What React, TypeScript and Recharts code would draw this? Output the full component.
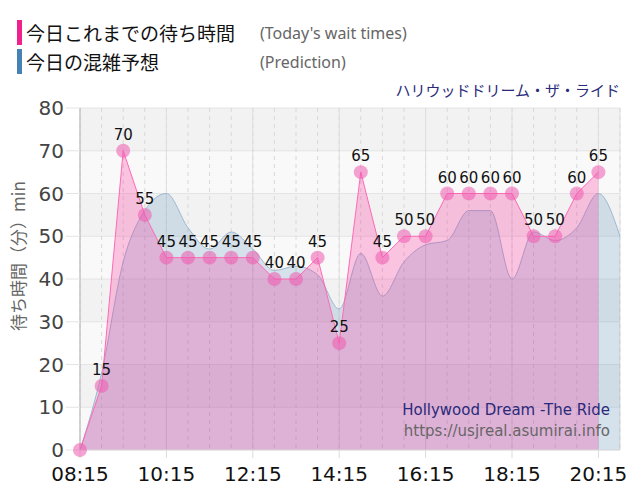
import { Area, AreaChart, CartesianGrid, LabelList, XAxis, YAxis } from "recharts";

// 30分ごとの時刻
const times = [
  "08:15", "08:45", "09:15", "09:45", "10:15", "10:45", "11:15", "11:45",
  "12:15", "12:45", "13:15", "13:45", "14:15", "14:45", "15:15", "15:45",
  "16:15", "16:45", "17:15", "17:45", "18:15", "18:45", "19:15", "19:45",
  "20:15", "20:45",
];

// 今日これまでの待ち時間
const waitTimes = [
  0, 15, 70, 55, 45, 45, 45, 45, 45, 40, 40, 45, 25, 65, 45, 50, 50, 60, 60, 60,
  60, 50, 50, 60, 65, null,
];

// 今日の混雑予想
const prediction = [
  0, 18, 44, 56, 60, 52, 47, 51, 47, 42, 43, 41, 33, 46, 36, 44, 48, 49, 56, 56,
  40, 51, 49, 52, 60, 50,
];

const xTicks = ["08:15", "10:15", "12:15", "14:15", "16:15", "18:15", "20:15"];
const yTicks = [0, 10, 20, 30, 40, 50, 60, 70, 80];

const data = times.map((t, i) => ({ time: t, wait: waitTimes[i], pred: prediction[i] }));

const jp = '"Noto Sans CJK JP", sans-serif';
const num = '"DejaVu Sans", sans-serif';

function LegendRow({ color, jpText, enText, top }: { color: string; jpText: string; enText: string; top: number }) {
  return (
    <div style={{ position: "absolute", left: 17, top, height: 25, display: "flex", alignItems: "center" }}>
      <div style={{ width: 5, height: 25, background: color, marginRight: 4 }} />
      <span style={{ fontFamily: jp, fontSize: 19, color: "#111", width: 234 }}>{jpText}</span>
      <span style={{ fontFamily: '"Noto Sans", sans-serif', fontSize: 16, color: "#666" }}>{enText}</span>
    </div>
  );
}

function App() {
  return (
    <div style={{ position: "absolute", left: 0, top: 0, width: 640, height: 500, background: "#fff" }}>
      <LegendRow color="#f0208c" jpText="今日これまでの待ち時間" enText="(Today's wait times)" top={20} />
      <LegendRow color="#4682b4" jpText="今日の混雑予想" enText="(Prediction)" top={49} />
      <div style={{ position: "absolute", right: 20, top: 79, fontFamily: jp, fontSize: 15, color: "#2a2a7a" }}>
        ハリウッドドリーム・ザ・ライド
      </div>
      <div
        style={{
          position: "absolute",
          left: 9,
          top: 331,
          transform: "rotate(-90deg)",
          transformOrigin: "0 0",
          fontFamily: jp,
          fontSize: 17,
          lineHeight: "18px",
          color: "#666",
          whiteSpace: "nowrap",
        }}
      >
        待ち時間（分）min
      </div>
      <AreaChart
        width={640}
        height={500}
        data={data}
        margin={{ top: 108, right: 20, bottom: 0, left: 0 }}
        style={{ position: "absolute", left: 0, top: 0 }}
      >
        <CartesianGrid
          vertical={false}
          stroke="#e4e4e4"
          fill="none"
          horizontalFill={["#f2f2f2", "#f9f9f9"]}
        />
        <CartesianGrid xAxisId="all" horizontal={false} stroke="#d8d8d8" strokeDasharray="4 4" />
        <CartesianGrid horizontal={false} stroke="#dedede" />
        <XAxis xAxisId="all" dataKey="time" hide interval={0} />
        <XAxis
          dataKey="time"
          ticks={xTicks}
          interval={0}
          height={50}
          tickSize={8}
          tickMargin={9}
          tickLine={{ stroke: "#dddddd" }}
          axisLine={{ stroke: "#dddddd" }}
          tick={{ fontFamily: num, fontSize: 20, fill: "#111" }}
        />
        <YAxis
          domain={[0, 80]}
          ticks={yTicks}
          width={80}
          tickSize={14}
          tickLine={{ stroke: "#e4e4e4" }}
          axisLine={{ stroke: "#b8b8b8" }}
          tick={{ fontFamily: num, fontSize: 20, fill: "#444" }}
        />
        <Area
          dataKey="pred"
          type="monotone"
          stroke="#9fb8cf"
          strokeWidth={1}
          fill="#4682b4"
          fillOpacity={0.2}
          dot={false}
          activeDot={false}
          isAnimationActive={false}
        />
        <Area
          dataKey="wait"
          type="linear"
          stroke="#ff69b4"
          strokeWidth={1}
          fill="#ff1493"
          fillOpacity={0.23}
          dot={{ r: 7, fill: "#ee5aae", fillOpacity: 0.55, stroke: "none" }}
          activeDot={false}
          isAnimationActive={false}
        >
          <LabelList
            dataKey="wait"
            position="top"
            offset={11}
            formatter={(v: any) => (v ? v : "")}
            style={{ fontFamily: num, fontSize: 15, fill: "#111" }}
          />
        </Area>
      </AreaChart>
      <div style={{ position: "absolute", right: 30, top: 400, textAlign: "right", fontFamily: num, fontSize: 15, lineHeight: "21px" }}>
        <div style={{ color: "#2a2a7a" }}>Hollywood Dream -The Ride</div>
        <div style={{ color: "#666" }}>https://usjreal.asumirai.info</div>
      </div>
    </div>
  );
}

export default App;
